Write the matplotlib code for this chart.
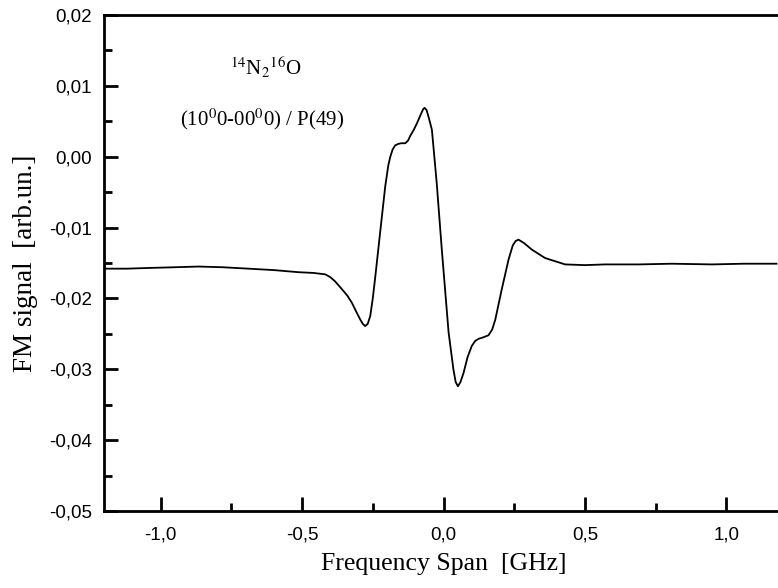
# -*- coding: utf-8 -*-
import matplotlib
matplotlib.use('Agg')
import matplotlib.pyplot as plt
from matplotlib.ticker import MultipleLocator, FuncFormatter
from matplotlib import rcParams

rcParams['font.family'] = ['Liberation Sans', 'DejaVu Sans']
rcParams['mathtext.fontset'] = 'stix'

# частота, ГГц
freq = [-1.205, -1.12, -1.042, -0.95, -0.866, -0.78, -0.689, -0.60, -0.512,
        -0.46, -0.418, -0.40, -0.383, -0.359, -0.340, -0.324, -0.308,
        -0.294, -0.285, -0.277, -0.268, -0.259, -0.250, -0.241, -0.224,
        -0.206, -0.195, -0.188, -0.180, -0.171, -0.160, -0.150, -0.135,
        -0.125, -0.118, -0.105, -0.094, -0.080, -0.072, -0.067, -0.060,
        -0.052, -0.041, -0.024, -0.006, 0.018, 0.035, 0.043, 0.051, 0.060,
        0.071, 0.085, 0.100, 0.112, 0.124, 0.140, 0.159, 0.172, 0.183,
        0.206, 0.230, 0.245, 0.255, 0.265, 0.285, 0.312, 0.359, 0.430,
        0.50, 0.571, 0.69, 0.806, 0.95, 1.06, 1.177]
# FM сигнал, отн. ед.
signal = [-0.0158, -0.0158, -0.0157, -0.0156, -0.0155, -0.0156, -0.0158,
          -0.0160, -0.0163, -0.0164, -0.0166, -0.0170, -0.0176, -0.0187,
          -0.0196, -0.0206, -0.0219, -0.0230, -0.0236, -0.0239, -0.0236,
          -0.0225, -0.0200, -0.0169, -0.0107, -0.0042, -0.0012, 0.0000,
          0.0010, 0.0016, 0.0018, 0.0019, 0.0019, 0.0023, 0.0029, 0.0038,
          0.0047, 0.0060, 0.0067, 0.0069, 0.0066, 0.0055, 0.0038, -0.0037,
          -0.0131, -0.0248, -0.0300, -0.0318, -0.0324, -0.0318, -0.0305,
          -0.0283, -0.0267, -0.0260, -0.0257, -0.0255, -0.0252, -0.0244,
          -0.0230, -0.0187, -0.0145, -0.0125, -0.0119, -0.0117, -0.0122,
          -0.0131, -0.0143, -0.0152, -0.0153, -0.0152, -0.0152, -0.0151,
          -0.0152, -0.0151, -0.0151]

label_1 = r'$^{14}$N$_{2}$$^{16}$O'
label_2 = r'(10$^{0}$0-00$^{0}$0) / P(49)'


def comma(val, nd):
    """десятичная запятая вместо точки"""
    if abs(val) < 1e-9:
        val = 0.0
    return (('%.' + str(nd) + 'f') % val).replace('.', ',')


fig = plt.figure(figsize=(7.78, 5.88), dpi=100)
ax = fig.add_axes([104 / 778., 77 / 588., 679 / 778., 496 / 588.])

ax.plot(freq, signal, color='black', linewidth=1.3)

ax.set_xlim(-1.2, 1.2)
ax.set_ylim(-0.05, 0.02)
ax.xaxis.set_major_locator(MultipleLocator(0.5))
ax.xaxis.set_minor_locator(MultipleLocator(0.25))
ax.yaxis.set_major_locator(MultipleLocator(0.01))
ax.yaxis.set_minor_locator(MultipleLocator(0.005))
ax.xaxis.set_major_formatter(FuncFormatter(lambda v, p: comma(v, 1)))
ax.yaxis.set_major_formatter(FuncFormatter(lambda v, p: comma(v, 2)))

ax.tick_params(which='both', direction='in', top=False, right=False,
               labelsize=13.5, width=2)
ax.tick_params(which='major', length=10)
ax.tick_params(axis='x', which='major', pad=11)
ax.tick_params(axis='y', which='major', pad=8.5)
ax.tick_params(which='minor', length=6)
for s in ax.spines.values():
    s.set_linewidth(2)

ax.set_xlabel('Frequency Span  [GHz]', family='Liberation Serif',
              fontsize=18.5, labelpad=7)
ax.set_ylabel('FM signal  [arb.un.]', family='Liberation Serif',
              fontsize=19.5, labelpad=8)

ax.text(-0.63, 0.0125, label_1, family='Liberation Serif', fontsize=15,
        ha='center', va='center')
ax.text(-0.64, 0.0053, label_2, family='Liberation Serif', fontsize=15,
        ha='center', va='center')

plt.savefig('out.png', dpi=100)
